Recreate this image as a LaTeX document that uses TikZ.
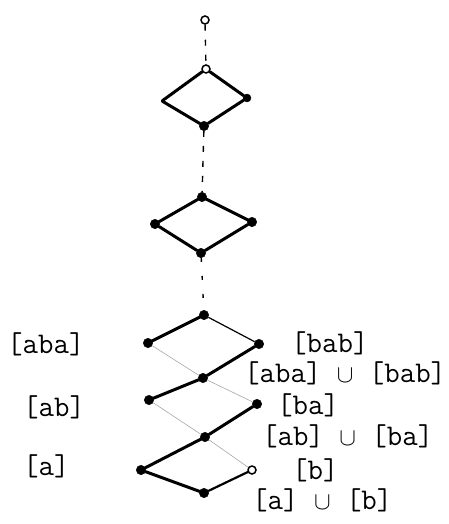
\documentclass[tikz,border=0pt]{standalone}
\usepackage{fontspec}
\usetikzlibrary{positioning}

\begin{document}
\begin{tikzpicture}[
    x=1pt, y=-1pt,
    dot/.style = {circle, fill=black, draw=black, inner sep=0pt, minimum size=9.5pt},
    hole/.style = {circle, fill=white, draw=black, line width=1.5pt, inner sep=0pt, minimum size=8pt},
    corner/.style = {inner sep=0pt, minimum size=0pt},
    lbl/.style = {font=\fontsize{30}{33}\selectfont\ttfamily, inner sep=0pt, anchor=west},
    strong/.style = {line width=3pt, line cap=round},
    weak/.style = {gray!70, line width=0.6pt},
    thin/.style = {black, line width=1.2pt},
    gap/.style = {line width=1.4pt, dash pattern=on 6pt off 9pt},
]
\useasboundingbox (0,0) rectangle (448,524);

% Cima
\node[hole] (top) at (205,20) {};
\node[hole] (t1) at (206,69) {};

% Primer rombo
\node[corner] (t1l) at (162,101) {};
\node[dot, minimum size=8pt] (t1r) at (247,98) {};
\node[dot] (t1b) at (204,126) {};
\draw[gap] (top) -- (t1);
\draw[strong] (t1) -- (t1l) -- (t1b) -- (t1r) -- (t1);

% Segundo rombo
\node[dot] (t2) at (202,197) {};
\node[dot] (t2l) at (155,224) {};
\node[dot] (t2r) at (252,222) {};
\node[dot] (t2b) at (201,253) {};
\draw[gap] (t1b) -- (t2);
\draw[strong] (t2) -- (t2l) -- (t2b) -- (t2r) -- (t2);

% Zigzag inferior
\node[dot] (z0) at (204,315) {};
\node[dot] (aba) at (148,343) {};
\node[dot] (bab) at (259,344) {};
\node[dot] (ababab) at (203,378) {};
\node[dot] (ab) at (149,400) {};
\node[dot] (ba) at (257,404) {};
\node[dot] (abba) at (205,437) {};
\node[dot] (a) at (141,470) {};
\node[hole] (b) at (252,470) {};
\node[dot] (aub) at (204,493) {};
\draw[gap, dash pattern=on 4pt off 14pt] (t2b) -- (z0);

\draw[strong] (z0) -- (aba);
\draw[thin] (z0) -- (bab);
\draw[weak] (aba) -- (ababab);
\draw[strong] (bab) -- (ababab);
\draw[strong] (ababab) -- (ab);
\draw[weak] (ababab) -- (ba);
\draw[weak] (ab) -- (abba);
\draw[strong] (ba) -- (abba);
\draw[strong] (abba) -- (a);
\draw[weak] (abba) -- (b);
\draw[strong] (a) -- (aub);
\draw[strong, line width=2.2pt] (b) -- (aub);

% Etiquetas
\node[lbl] (Laba) at (7,344) {[aba]};
\node[lbl] (Lbab) at (291,343) {[bab]};
\node[lbl] (Lababbab) at (244,373) {[aba] $\cup$ [bab]};
\node[lbl] (Lab) at (23,407) {[ab]};
\node[lbl] (Lba) at (277,405) {[ba]};
\node[lbl] (Labba) at (262,436) {[ab] $\cup$ [ba]};
\node[lbl] (La) at (23,466) {[a]};
\node[lbl] (Lb) at (292,470) {[b]};
\node[lbl] (Laub) at (252,500) {[a] $\cup$ [b]};

\end{tikzpicture}
\end{document}
